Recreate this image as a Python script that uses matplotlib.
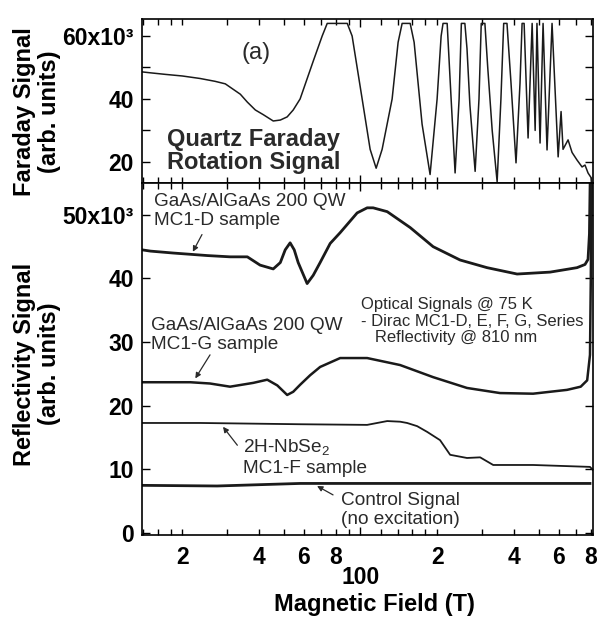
import numpy as np
import matplotlib
matplotlib.use("Agg")
import matplotlib.pyplot as plt
from matplotlib.ticker import FixedLocator, FixedFormatter

plt.rcParams['font.family'] = ['Liberation Sans', 'DejaVu Sans']
plt.rcParams['mathtext.fontset'] = 'custom'
plt.rcParams['mathtext.rm'] = 'Liberation Sans'
plt.rcParams['mathtext.it'] = 'Liberation Sans'
plt.rcParams['mathtext.bf'] = 'Liberation Sans:bold'

# ---- データ ----
# 上段: 石英ファラデー回転信号
faraday_field = [13.9, 15.0, 17.2, 20.0, 23.5, 26.9, 29.5, 33.8, 36.0, 38.7, 41.6, 45.5,
                 48.5, 51.6, 54.5, 58.0, 65.3, 70.8, 74.1, 88.8, 92.8, 101.6, 109.2, 115.3,
                 121.7, 133.2, 140.6, 145.8, 156.8, 162.5, 174.6, 187.7, 200, 207.4, 211, 219,
                 227, 235.3, 244, 249, 257, 262, 269, 282, 292, 298, 308, 316, 329, 344, 356,
                 365, 376, 390, 408, 423, 431, 439, 455, 472, 485, 493, 507, 521, 540, 565,
                 597, 613, 624, 653, 677, 708, 741, 761, 782, 804, 826]
faraday_signal = [48.6, 48.3, 47.8, 47.3, 46.5, 45.6, 44.8, 41.5, 39.0, 36.5, 35.0, 33.0,
                  33.3, 34.3, 36.5, 40.0, 52.0, 60.0, 64.0, 64.0, 60.0, 40.0, 24.0, 18.0,
                  24.0, 40.0, 58.0, 64.0, 64.0, 58.0, 32.0, 16.0, 40.0, 60.0, 64.0, 64.0,
                  40.0, 16.5, 40.0, 64.0, 64.0, 56.0, 38.0, 17.0, 40.0, 64.0, 64.0, 50.0, 30.0, 13.7, 40.0,
                  64.0, 64.0, 45.0, 19.7, 45.0, 64.0, 64.0, 27.6, 64.0, 30.0, 64.0, 26.0, 64.0, 23.8, 64.0,
                  21.6, 36.0, 24.0, 27.0, 23.0, 20.6, 18.4, 19.0, 16.5, 15.0, 5.0]

# 下段: 反射率信号
mc1d_field = [13.9, 15.0, 18.4, 25.1, 30.8, 36.0, 40.4, 45.5, 48.5, 50.7, 53.0, 55.0, 57.0,
              61.8, 65.3, 69.5, 76.1, 83.3, 97.1, 106.3, 112.2, 127.4, 156.8, 192.9, 246.2,
              314, 412, 555, 708, 761, 782, 792, 800]
mc1d_signal = [44.5, 44.3, 44.0, 43.6, 43.4, 43.4, 42.1, 41.5, 42.5, 44.5, 45.6, 44.5, 42.5,
               39.2, 40.5, 42.5, 45.5, 47.2, 50.3, 51.1, 51.1, 50.5, 48.0, 45.0, 42.9,
               41.7, 40.7, 41.0, 41.7, 42.2, 43.0, 47.0, 60.0]

mc1g_field = [13.9, 21.5, 25.7, 30.8, 38.0, 43.1, 47.2, 51.6, 54.5, 58.0, 63.5, 69.5, 83.3,
              106.3, 143.2, 192.9, 262, 353, 476, 647, 732, 776, 796, 802, 808]
mc1g_signal = [23.7, 23.7, 23.5, 23.0, 23.6, 24.1, 23.2, 21.7, 22.2, 23.3, 24.8, 26.1, 27.5,
               27.5, 26.4, 24.5, 22.8, 22.0, 21.9, 22.5, 23.0, 24.0, 28.0, 40.0, 60.0]

nbse2_field = [13.9, 23.5, 58.0, 106.3, 127.4, 143.2, 152.5, 167, 182.8, 205.4, 225, 262,
               295, 332, 476, 796, 818]
nbse2_signal = [17.3, 17.3, 17.1, 17.0, 17.6, 17.5, 17.3, 16.8, 15.9, 14.6, 12.3, 11.8,
                11.9, 10.7, 10.7, 10.4, 9.9]

control_field = [13.9, 27.4, 58.0, 796]
control_signal = [7.5, 7.4, 7.8, 7.8]

# 軸目盛
x_minor = [14, 16, 18, 20, 30, 40, 50, 60, 70, 80, 90, 120, 140, 160, 180,
           200, 300, 400, 500, 600, 700, 800]
x_minor_labels = {20: "2", 40: "4", 60: "6", 80: "8", 200: "2", 400: "4", 600: "6", 800: "8"}
top_yticks = [20, 40, 60]
top_ylabels = ["20", "40", "60x10\u00b3"]
bot_yticks = [0, 10, 20, 30, 40, 50]
bot_ylabels = ["0", "10", "20", "30", "40", "50x10\u00b3"]

W, H = 600, 618
fig = plt.figure(figsize=(6.0, 6.18), dpi=100)


def fx(px):
    return px / W


def fy(py):
    return 1 - py / H


left, right = fx(142), fx(593)
ax1 = fig.add_axes([left, fy(183), right - left, fy(19) - fy(183)])
ax2 = fig.add_axes([left, fy(535), right - left, fy(183) - fy(535)], sharex=ax1)

line_col = '#1a1a1a'
ax1.plot(faraday_field, faraday_signal, color=line_col, lw=1.1)
ax2.plot(mc1d_field, mc1d_signal, color=line_col, lw=2.0)
ax2.plot(mc1g_field, mc1g_signal, color=line_col, lw=1.8)
ax2.plot(nbse2_field, nbse2_signal, color=line_col, lw=1.3)
ax2.plot(control_field, control_signal, color=line_col, lw=2.0)

ax1.set_xscale('log')
ax1.set_xlim(13.9, 818)
ax1.set_ylim(13.3, 65.4)
ax2.set_ylim(-0.3, 55)

tick_font = dict(fontsize=16.5, fontweight='bold')
for ax in (ax1, ax2):
    for sp in ax.spines.values():
        sp.set_linewidth(1.2)
    ax.tick_params(which='both', direction='in', top=True, right=True, width=1.0)
    ax.tick_params(which='major', length=6)
    ax.tick_params(which='minor', length=4)
    ax.xaxis.set_major_locator(FixedLocator([100]))
    ax.xaxis.set_minor_locator(FixedLocator(x_minor))

ax1.set_yticks(top_yticks)
ax1.set_yticklabels(top_ylabels, **tick_font)
ax1.yaxis.set_minor_locator(FixedLocator([30, 50]))
ax1.tick_params(axis='y', which='minor', length=6)
ax1.tick_params(axis='y', pad=6)
ax1.tick_params(axis='x', which='both', labelbottom=False)

ax2.set_yticks(bot_yticks)
ax2.set_yticklabels(bot_ylabels, **tick_font)
ax2.tick_params(axis='y', pad=6)
ax2.yaxis.set_minor_locator(FixedLocator([]))
ax2.xaxis.set_major_formatter(FixedFormatter(["100"]))
ax2.xaxis.set_minor_formatter(FixedFormatter([x_minor_labels.get(v, "") for v in x_minor]))
ax2.tick_params(axis='x', which='major', pad=22, labelsize=16.5)
ax2.tick_params(axis='x', which='minor', pad=8, labelsize=16.5)
for lab in ax2.get_xticklabels(which='both'):
    lab.set_fontweight('bold')

# 軸ラベル
fig.text(fx(37), fy(112), "Faraday Signal\n(arb. units)", rotation=90, ha='center', va='center',
         fontsize=17, fontweight='bold', linespacing=1.1)
fig.text(fx(37), fy(364), "Reflectivity Signal\n(arb. units)", rotation=90, ha='center', va='center',
         fontsize=17, fontweight='bold', linespacing=1.1)
fig.text(fx(374), fy(604), "Magnetic Field (T)", ha='center', va='center',
         fontsize=17, fontweight='bold')

# 注記
txt_col = '#2a2a2a'
fig.text(fx(256), fy(53), "(a)", ha='center', va='center', fontsize=17, color=txt_col)
fig.text(fx(167), fy(151), "Quartz Faraday\nRotation Signal", ha='left', va='center',
         fontsize=17, fontweight='bold', linespacing=1.05, color=txt_col)
fig.text(fx(154), fy(211), "GaAs/AlGaAs 200 QW\nMC1-D sample", ha='left', va='center',
         fontsize=13.7, linespacing=1.2, color=txt_col)
fig.text(fx(151), fy(335), "GaAs/AlGaAs 200 QW\nMC1-G sample", ha='left', va='center',
         fontsize=13.7, linespacing=1.2, color=txt_col)
fig.text(fx(243), fy(457), "2H-NbSe$_2$\nMC1-F sample", ha='left', va='center',
         fontsize=13.7, linespacing=1.2, color=txt_col)
fig.text(fx(341), fy(510), "Control Signal\n(no excitation)", ha='left', va='center',
         fontsize=13.7, linespacing=1.2, color=txt_col)
fig.text(fx(361), fy(321), "Optical Signals @ 75 K\n- Dirac MC1-D, E, F, G, Series\n   Reflectivity @ 810 nm",
         ha='left', va='center', fontsize=12, linespacing=1.1, color=txt_col)

arrow = dict(arrowstyle='-|>', color=txt_col, lw=0.9, mutation_scale=8, shrinkA=0, shrinkB=0)
ax2.annotate("", xy=(22.0, 44.2), xytext=(23.9, 46.9), arrowprops=arrow)
ax2.annotate("", xy=(22.5, 24.3), xytext=(25.7, 28.0), arrowprops=arrow)
ax2.annotate("", xy=(28.9, 16.7), xytext=(32.9, 13.8), arrowprops=arrow)
ax2.annotate("", xy=(67.6, 7.4), xytext=(78.1, 6.0), arrowprops=arrow)

fig.savefig("out.png", dpi=100)
